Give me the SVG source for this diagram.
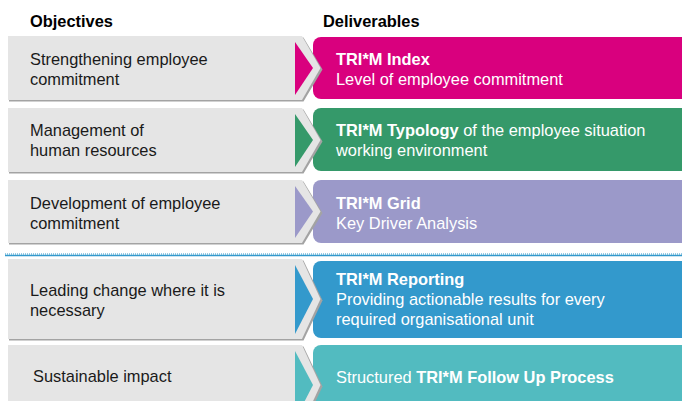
<svg xmlns="http://www.w3.org/2000/svg" width="682" height="401" viewBox="0 0 682 401">
  <style>
    .hdr { font-family: "Liberation Sans", Arial, sans-serif; font-size: 16.4px; font-weight: bold; fill: #000; }
    .obj { font-family: "Liberation Sans", Arial, sans-serif; font-size: 16.4px; fill: #1a1a1a; }
    .del { font-family: "Liberation Sans", Arial, sans-serif; font-size: 16.4px; fill: #fff; }
    .b { font-weight: bold; }
    .shade { fill: #a3a3a3; }
    .tab { fill: #e5e5e5; }
  </style>

  <rect width="682" height="401" fill="#fff"/>

  <!-- column headers -->
  <text class="hdr" x="30" y="27">Objectives</text>
  <text class="hdr" x="323" y="27">Deliverables</text>

  <!-- row 1 -->
  <g id="row1">
    <path d="M321,37 H690 V99 H321 A8,8 0 0 1 313,91 V45 A8,8 0 0 1 321,37 Z" fill="#d9007e"/>
    <path class="shade" d="M9,37.5 H303.5 L322.5,69.5 L303.5,101.5 H9 Z"/>
    <path class="tab" d="M8,36 H302 L320.5,68 L302,100 H8 Z"/>
    <path d="M295,42 L313,68 L295,95 Z" fill="#d9007e"/>
    <text class="obj" x="30" y="65">Strengthening employee</text>
    <text class="obj" x="30" y="85">commitment</text>
    <text class="del b" x="336" y="65">TRI*M Index</text>
    <text class="del" x="336" y="85">Level of employee commitment</text>
  </g>

  <!-- row 2 -->
  <g id="row2">
    <path d="M321,108 H690 V171 H321 A8,8 0 0 1 313,163 V116 A8,8 0 0 1 321,108 Z" fill="#35996a"/>
    <path class="shade" d="M9,109.5 H303.5 L322.5,141.5 L303.5,173.5 H9 Z"/>
    <path class="tab" d="M8,108 H302 L320.5,140 L302,172 H8 Z"/>
    <path d="M295,114 L313,140 L295,167 Z" fill="#35996a"/>
    <text class="obj" x="30" y="136">Management of</text>
    <text class="obj" x="30" y="156">human resources</text>
    <text class="del" x="336" y="136"><tspan class="b">TRI*M Typology</tspan> of the employee situation</text>
    <text class="del" x="336" y="156">working environment</text>
  </g>

  <!-- row 3 -->
  <g id="row3">
    <path d="M321,180 H690 V243 H321 A8,8 0 0 1 313,235 V188 A8,8 0 0 1 321,180 Z" fill="#9b99c9"/>
    <path class="shade" d="M9,181.5 H303.5 L322.5,213 L303.5,244.5 H9 Z"/>
    <path class="tab" d="M8,180 H302 L320.5,211.5 L302,243 H8 Z"/>
    <path d="M295,186 L313,211.5 L295,238 Z" fill="#9b99c9"/>
    <text class="obj" x="30" y="209">Development of employee</text>
    <text class="obj" x="30" y="229">commitment</text>
    <text class="del b" x="336" y="209">TRI*M Grid</text>
    <text class="del" x="336" y="229">Key Driver Analysis</text>
  </g>

  <!-- divider between the two groups of rows -->
  <g id="divider">
    <line x1="5" y1="254" x2="682" y2="254" stroke="#3399cc" stroke-width="1" stroke-dasharray="1 1"/>
    <line x1="5" y1="255.5" x2="682" y2="255.5" stroke="#3399cc" stroke-width="1.5"/>
  </g>

  <!-- row 4 -->
  <g id="row4">
    <path d="M321,261 H690 V338 H321 A8,8 0 0 1 313,330 V269 A8,8 0 0 1 321,261 Z" fill="#3399cc"/>
    <path class="shade" d="M9,260.5 H303.5 L322.5,300.5 L303.5,340.5 H9 Z"/>
    <path class="tab" d="M8,259 H302 L320.5,299 L302,339 H8 Z"/>
    <path d="M295,265 L313,299 L295,334 Z" fill="#3399cc"/>
    <text class="obj" x="30" y="296">Leading change where it is</text>
    <text class="obj" x="30" y="316">necessary</text>
    <text class="del b" x="336" y="285">TRI*M Reporting</text>
    <text class="del" x="336" y="305">Providing actionable results for every</text>
    <text class="del" x="336" y="325">required organisational unit</text>
  </g>

  <!-- row 5 -->
  <g id="row5">
    <path d="M321,345 H690 V410 H313 V353 A8,8 0 0 1 321,345 Z" fill="#52bbc0"/>
    <path class="shade" d="M9,346.5 H303.5 L322.5,386.5 L303.5,426.5 H9 Z"/>
    <path class="tab" d="M8,345 H302 L320.5,385 L302,425 H8 Z"/>
    <path d="M295,351 L313,385 L295,420 Z" fill="#52bbc0"/>
    <text class="obj" x="33" y="382">Sustainable impact</text>
    <text class="del" x="336" y="383">Structured <tspan class="b">TRI*M Follow Up Process</tspan></text>
  </g>
</svg>
